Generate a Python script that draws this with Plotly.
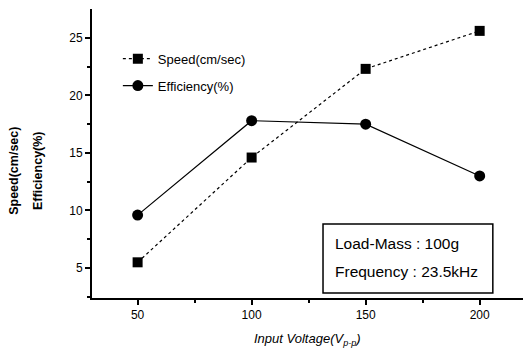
import plotly.graph_objects as go

voltage = [50, 100, 150, 200]
speed = [5.5, 14.6, 22.3, 25.6]
efficiency = [9.6, 17.8, 17.5, 13.0]
x_ticks = [50, 100, 150, 200]
y_ticks = [5, 10, 15, 20, 25]

FONT = "Liberation Sans, Arial, sans-serif"

fig = go.Figure()
fig.add_trace(go.Scatter(
    x=voltage, y=speed, name="Speed(cm/sec)", mode="lines+markers", legendgroup="a",
    line=dict(color="black", width=1.2, dash="dot"),
    marker=dict(symbol="square", size=10, color="black")))
fig.add_trace(go.Scatter(
    x=voltage, y=efficiency, name="Efficiency(%)", mode="lines+markers", legendgroup="b",
    line=dict(color="black", width=1.2),
    marker=dict(symbol="circle", size=11, color="black")))

fig.update_layout(
    width=523, height=350,
    margin=dict(l=92, r=0, t=9, b=52, autoexpand=False),
    paper_bgcolor="white", plot_bgcolor="white",
    font=dict(family=FONT, color="black", size=12),
    showlegend=True,
    legend=dict(x=0.06, y=0.88, xanchor="left", yanchor="top",
                bgcolor="rgba(0,0,0,0)", font=dict(size=13, family=FONT),
                itemwidth=30, tracegroupgap=7),
    xaxis=dict(range=[30, 219], tickvals=x_ticks, showline=True, linecolor="black",
               linewidth=2, ticks="outside", ticklen=5, tickwidth=1.5, tickcolor="black",
               showgrid=False, zeroline=False, automargin=False,
               tickfont=dict(size=12, family=FONT),
               minor=dict(tickvals=[75, 125, 175], ticks="outside", ticklen=3, tickcolor="black")),
    yaxis=dict(range=[2.4, 27.5], tickvals=y_ticks, showline=True, linecolor="black",
               linewidth=2, ticks="outside", ticklen=5, tickwidth=1.5, tickcolor="black",
               showgrid=False, zeroline=False, automargin=False,
               tickfont=dict(size=12, family=FONT),
               minor=dict(tickvals=[2.5, 7.5, 12.5, 17.5, 22.5], ticks="outside", ticklen=3, tickcolor="black")),
)

fig.add_shape(type="rect", xref="paper", yref="paper",
              x0=0.536, x1=0.93, y0=0.017, y1=0.256,
              line=dict(color="black", width=1.5), fillcolor="white")
fig.add_annotation(xref="paper", yref="paper", x=0.56, y=0.19, xanchor="left", yanchor="middle",
                   text="Load-Mass : 100g", showarrow=False, font=dict(size=15.5, family=FONT))
fig.add_annotation(xref="paper", yref="paper", x=0.56, y=0.09, xanchor="left", yanchor="middle",
                   text="Frequency : 23.5kHz", showarrow=False, font=dict(size=15.5, family=FONT))

fig.add_annotation(xref="paper", yref="paper", x=0.50, y=-0.145, yanchor="middle", xanchor="center",
                   text="<i>Input Voltage(V<sub>p-p</sub>)</i>", showarrow=False,
                   font=dict(size=13, family=FONT))
fig.add_annotation(xref="paper", yref="paper", x=-0.181, y=0.44, textangle=-90,
                   xanchor="center", yanchor="middle",
                   text="<b>Speed(cm/sec)</b>", showarrow=False, font=dict(size=12.5, family=FONT))
fig.add_annotation(xref="paper", yref="paper", x=-0.125, y=0.44, textangle=-90,
                   xanchor="center", yanchor="middle",
                   text="<b>Efficiency(%)</b>", showarrow=False, font=dict(size=12.5, family=FONT))

fig.write_html("out.html", config={"displayModeBar": False},
               post_script="document.body.style.margin='0';")
